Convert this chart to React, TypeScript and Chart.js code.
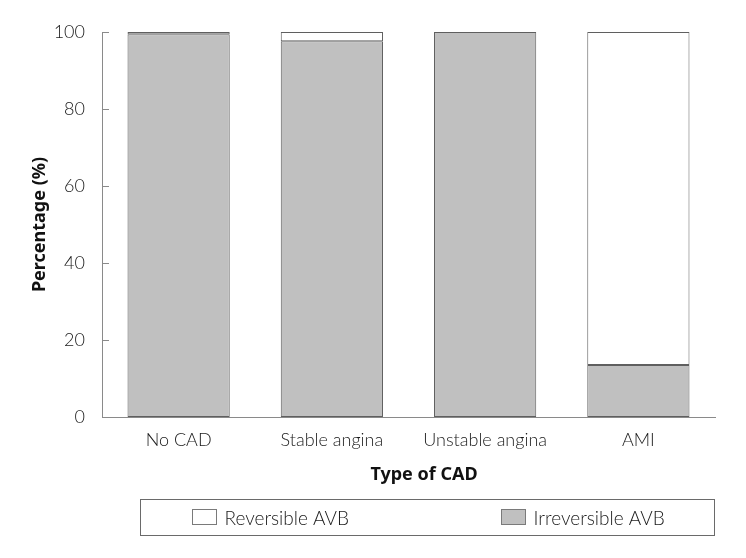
import React, { useEffect, useRef } from "react";
import { Chart, registerables } from "chart.js";

Chart.register(...registerables);

const categories = ["No CAD", "Stable angina", "Unstable angina", "AMI"];
const irreversible = [99.4, 97.6, 100, 13.5];
const reversible = [0.6, 2.4, 0, 86.5];
const seriesLabels = ["Irreversible AVB", "Reversible AVB"];
const yTicks = [0, 20, 40, 60, 80, 100];
const xTitle = "Type of CAD";

const FONT = "Lato, 'Noto Sans', 'DejaVu Sans', sans-serif";
const BOLD_FONT = "'Noto Sans', 'DejaVu Sans', sans-serif";
const GRAY_FILL = "#c0c0c0";
const EDGE = "#5f5f5f";
const AXIS = "#8a8a8a";
const TEXT = "#1a1a1a";

const innerTicks = {
  id: "innerTicks",
  afterDraw(chart: any) {
    const y = chart.scales.y;
    const ctx = chart.ctx;
    const x0 = chart.chartArea.left;
    ctx.save();
    ctx.strokeStyle = AXIS;
    ctx.lineWidth = 1;
    for (const v of yTicks) {
      const py = Math.round(y.getPixelForValue(v)) + 0.5;
      ctx.beginPath();
      ctx.moveTo(x0, py);
      ctx.lineTo(x0 + 7, py);
      ctx.stroke();
    }
    ctx.fillStyle = "#111";
    ctx.font = `bold 18px ${BOLD_FONT}`;
    ctx.textAlign = "center";
    ctx.textBaseline = "middle";
    ctx.fillText(xTitle, 424, 475);
    ctx.restore();
  },
};

const boxLegend = {
  id: "boxLegend",
  afterDraw(chart: any) {
    const ctx = chart.ctx;
    const left = 140.5;
    const top = 499.5;
    const w = 574;
    const h = 36;
    ctx.save();
    ctx.strokeStyle = "#6a6a6a";
    ctx.lineWidth = 1;
    ctx.strokeRect(left, top, w, h);
    const items = [
      { x: 52, ds: 1 },
      { x: 361, ds: 0 },
    ];
    ctx.font = `300 19px ${FONT}`;
    ctx.textBaseline = "middle";
    ctx.textAlign = "left";
    for (const it of items) {
      const ds = chart.data.datasets[it.ds];
      const sx = left + it.x;
      const sy = top + 10;
      ctx.fillStyle = ds.backgroundColor;
      ctx.fillRect(sx, sy, 24, 15);
      ctx.strokeStyle = "#7a7a7a";
      ctx.strokeRect(sx, sy, 24, 15);
      ctx.fillStyle = TEXT;
      ctx.fillText(ds.label, sx + 32, top + h / 2 + 1);
    }
    ctx.restore();
  },
};

export default function App() {
  const ref = useRef<HTMLCanvasElement>(null);
  useEffect(() => {
    if (!ref.current) return;
    const chart = new Chart(ref.current, {
      type: "bar",
      data: {
        labels: categories,
        datasets: [
          {
            label: seriesLabels[0],
            data: irreversible,
            backgroundColor: GRAY_FILL,
            borderColor: EDGE,
            borderWidth: 1,
            borderSkipped: false,
            stack: "s",
          },
          {
            label: seriesLabels[1],
            data: reversible,
            backgroundColor: "#ffffff",
            borderColor: EDGE,
            borderWidth: 1,
            borderSkipped: false,
            stack: "s",
          },
        ],
      },
      options: {
        responsive: false,
        animation: false,
        events: [],
        layout: { padding: { left: 0, right: 31, top: 32, bottom: 61 } },
        datasets: { bar: { categoryPercentage: 1, barPercentage: 0.667 } },
        plugins: { legend: { display: false }, tooltip: { enabled: false } },
        scales: {
          x: {
            stacked: true,
            grid: { display: false },
            border: { display: true, color: AXIS, width: 1 },
            ticks: { color: TEXT, padding: 4, font: { family: FONT, size: 18, weight: "300" } },
            title: { display: false },
            afterFit(scale: any) {
              scale.height = 80;
            },
          },
          y: {
            stacked: true,
            min: 0,
            max: 100,
            grid: { display: false },
            border: { display: true, color: AXIS, width: 1 },
            ticks: {
              stepSize: 20,
              color: TEXT,
              padding: 9,
              font: { family: FONT, size: 18, weight: "300" },
            },
            title: {
              display: true,
              text: "Percentage (%)",
              color: "#111",
              font: { family: BOLD_FONT, size: 18, weight: "bold" },
              padding: { top: 29, bottom: 4 },
            },
            afterFit(scale: any) {
              scale.width = 102;
            },
          },
        },
      },
      plugins: [innerTicks, boxLegend],
    });
    return () => chart.destroy();
  }, []);
  return (
    <div style={{ position: "fixed", left: 0, top: 0, width: 746, height: 558, background: "#fff" }}>
      <canvas ref={ref} width={746} height={558} style={{ display: "block" }} />
    </div>
  );
}
